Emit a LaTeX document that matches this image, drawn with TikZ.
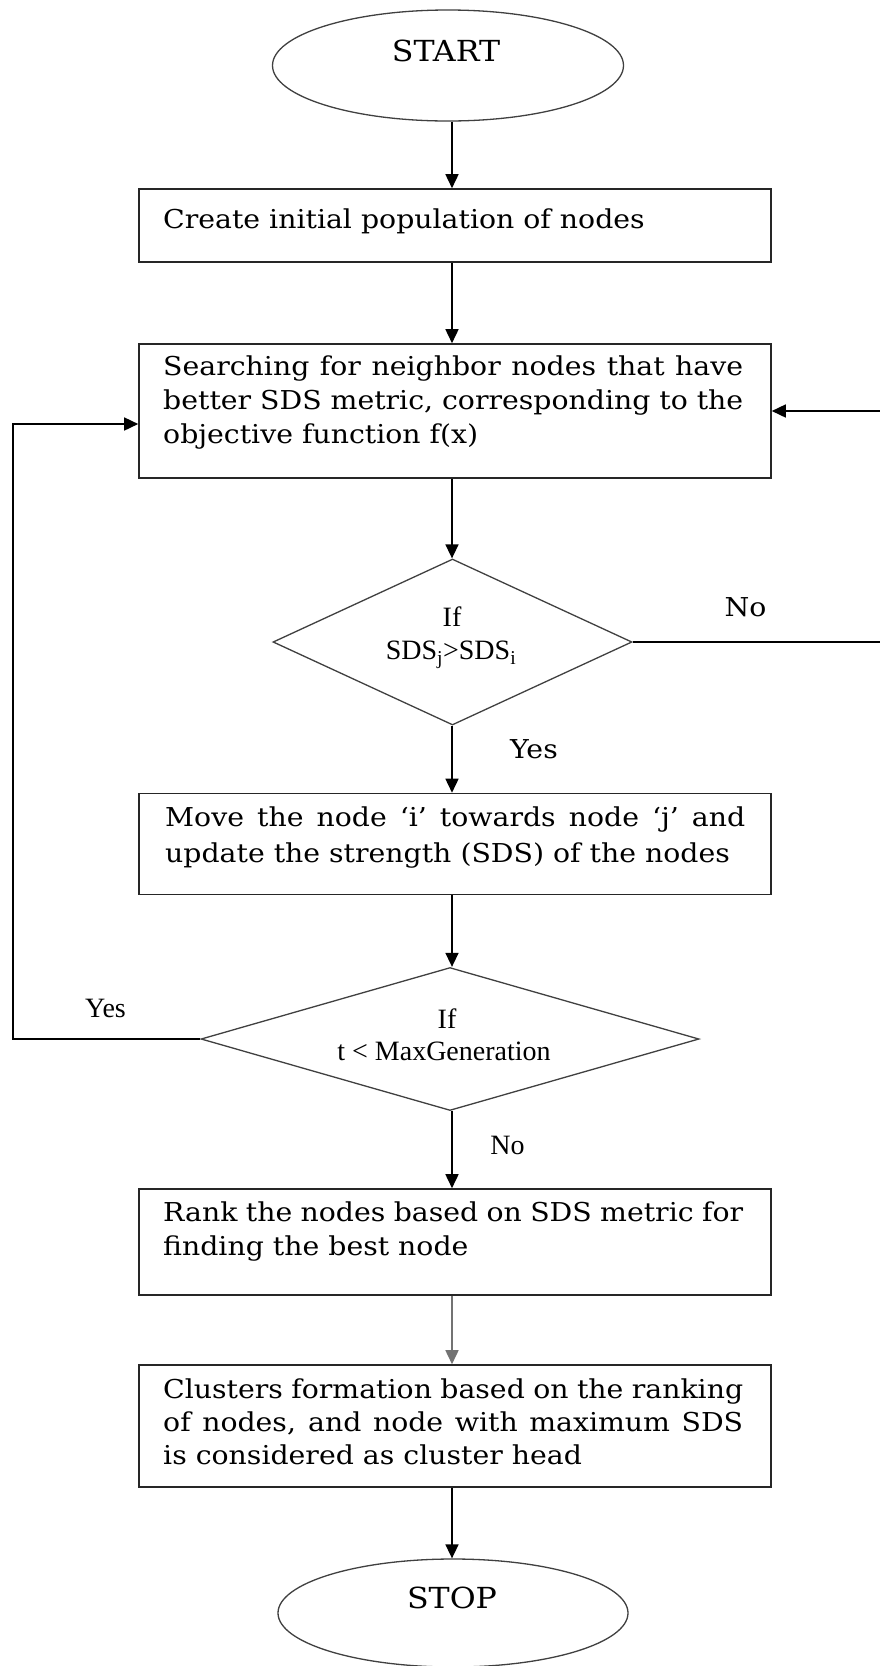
\documentclass[tikz,border=0pt]{standalone}
\usepackage{fontspec}
\setmainfont{DejaVu Serif}[FakeStretch=1.09]
\newfontfamily\labfont{Liberation Serif}
\usetikzlibrary{shapes.geometric,arrows.meta}

% paragraph settings for the justified box texts
\newcommand\boxparsetup{\tolerance=9999\relax\hbadness=10000\relax\hyphenpenalty=10000\relax\exhyphenpenalty=10000\relax}

\tikzset{
  conn/.style={line width=1.6pt, -{Triangle[length=14pt,width=13pt]}},
  procbox/.style={draw=black!85, line width=1.6pt, rectangle, minimum width=632pt, inner sep=0pt},
  terminal/.style={draw=black!75, line width=1.3pt, ellipse, minimum width=351pt, minimum height=111pt, inner sep=0pt},
  decision/.style={draw=black!75, line width=1.3pt, diamond, inner sep=0pt},
  boxtext/.style={anchor=base west, inner sep=0pt, text width=580pt, align=justify,
    font=\fontsize{26}{34}\selectfont},
  labtext/.style={inner sep=0pt, font=\labfont\fontsize{28}{30}\selectfont},
  widelab/.style={inner sep=0pt, font=\fontsize{26}{30}\selectfont},
  termtext/.style={inner sep=0pt, font=\fontsize{29}{30}\selectfont},
}

\begin{document}
\begin{tikzpicture}[x=1pt,y=-1pt]
\useasboundingbox (0,0) rectangle (880,1666);
\fill[white] (0,0) rectangle (880,1666);
\coordinate (spine) at (452,0);

% terminals, process boxes and decisions
\node[terminal] (start) at (448,65.5) {};
\node[termtext] (starttext) at (446,51) {START};

\node[procbox, minimum height=73pt] (b1) at (455,225.5) {};
\node[boxtext] (b1t) at (163,228) {\boxparsetup Create initial population of nodes};

\node[procbox, minimum height=134pt] (b2) at (455,411) {};
\node[boxtext] (b2t) at (163,375) {\boxparsetup Searching for neighbor nodes that have\linebreak better SDS metric, corresponding to the\linebreak objective function f(x)};

\node[decision, minimum width=359pt, minimum height=166pt] (d1) at (452.5,642) {};
\node[labtext] (d1a) at (452,617) {If};
\node[labtext] (d1b) at (451,655) {SDS\textsubscript{j}>SDS\textsubscript{i}};

\node[procbox, minimum height=101pt] (b3) at (455,844) {};
\node[boxtext, font=\fontsize{26}{36}\selectfont] (b3t) at (165,826) {\boxparsetup Move the node ‘i’ towards node ‘j’ and\linebreak update the strength (SDS) of the nodes};

\node[decision, minimum width=498pt, minimum height=143pt] (d2) at (450,1039) {};
\node[labtext] (d2a) at (447,1019) {If};
\node[labtext] (d2b) at (444,1051) {t < MaxGeneration};

\node[procbox, minimum height=106pt] (b4) at (455,1242) {};
\node[boxtext] (b4t) at (163,1221) {\boxparsetup Rank the nodes based on SDS metric for\linebreak finding the best node};

\node[procbox, minimum height=122pt] (b5) at (455,1426) {};
\node[boxtext, font=\fontsize{26}{33}\selectfont] (b5t) at (163,1398) {\boxparsetup Clusters formation based on the ranking\linebreak of nodes, and node with maximum SDS\linebreak is considered as cluster head};

\node[terminal, minimum width=350pt, minimum height=108pt] (stop) at (453,1613) {};
\node[termtext] (stoptext) at (452,1598) {STOP};

% branch labels
\node[widelab] (no1) at (745.5,607) {No};
\node[widelab] (yes1) at (534,749) {Yes};
\node[labtext] (yes2) at (105.5,1008.6) {Yes};
\node[labtext] (no2) at (507.5,1145) {No};

% main flow
\draw[conn] (start.south -| spine) -- (b1.north -| spine);
\draw[conn] (b1.south -| spine) -- (b2.north -| spine);
\draw[conn] (b2.south -| spine) -- (d1.north -| spine);
\draw[conn] (d1.south -| spine) -- (b3.north -| spine);
\draw[conn] (b3.south -| spine) -- (d2.north -| spine);
\draw[conn] (d2.south -| spine) -- (b4.north -| spine);
\draw[conn, draw=black!55] (b4.south -| spine) -- (b5.north -| spine);
\draw[conn] (b5.south -| spine) -- (stop.north -| spine);

% return paths
\coordinate (noret) at (884,411);
\draw[conn] (d1.east) -| (noret) -- (b2.east |- noret);
\coordinate (yesret) at (13,424);
\draw[conn] (d2.west) -| (yesret) -- (b2.west |- yesret);
\end{tikzpicture}
\end{document}
